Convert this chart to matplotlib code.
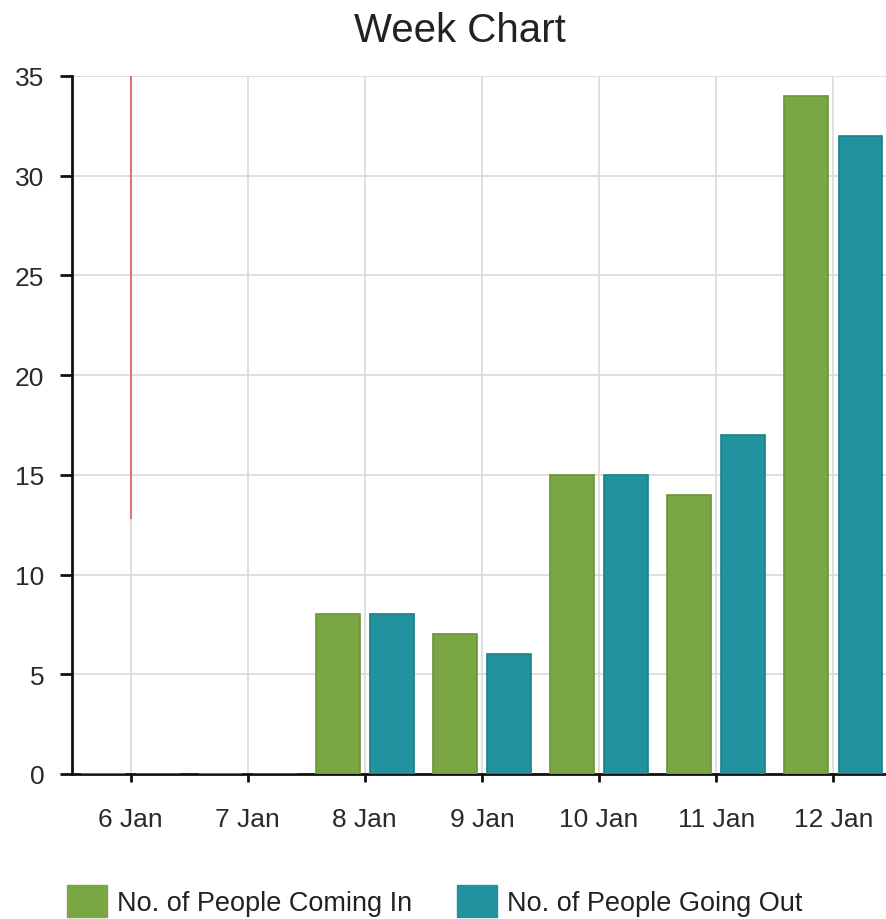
import matplotlib
matplotlib.use("Agg")
import matplotlib.pyplot as plt
from matplotlib.patches import Patch
import numpy as np

categories = ["6 Jan", "7 Jan", "8 Jan", "9 Jan", "10 Jan", "11 Jan", "12 Jan"]
coming_in = [0, 0, 8, 7, 15, 14, 34]
going_out = [0, 0, 8, 6, 15, 17, 32]
series_names = ["No. of People Coming In", "No. of People Going Out"]
yticks = [0, 5, 10, 15, 20, 25, 30, 35]
marker_x = 0
marker_range = (12.8, 35)

green = "#7ba644"
teal = "#22939e"
text_color = "#2a2a2a"

plt.rcParams['font.family'] = ['Liberation Sans', 'DejaVu Sans']

fig = plt.figure(figsize=(8.86, 9.2), dpi=100)
ax = fig.add_axes([72/886, 1-775/920, 1-72/886, (775-77)/920])

x = np.arange(len(categories))
w = 0.375
off = 0.232
ax.bar(x - off, coming_in, width=w, color=green, edgecolor="#6a9438", linewidth=1.2, zorder=3)
ax.bar(x + off, going_out, width=w, color=teal, edgecolor="#1d7f88", linewidth=1.2, zorder=3)

ax.set_xlim(-0.5, 6.45)
ax.set_ylim(0, 35)
ax.set_xticks(x)
ax.set_xticklabels(categories)
ax.set_yticks(yticks)
ax.grid(True, color="#d9d9d9", linewidth=1.2, zorder=0)
ax.set_axisbelow(True)

ax.vlines(marker_x, marker_range[0], marker_range[1], color="#e06666", linewidth=1.3, zorder=4)

for s in ["top", "right"]:
    ax.spines[s].set_visible(False)
for s in ["left", "bottom"]:
    ax.spines[s].set_linewidth(2)
    ax.spines[s].set_color("#111111")

ax.tick_params(axis="y", length=9, width=2, pad=11, labelsize=19, colors="#111111", labelcolor=text_color)
ax.tick_params(axis="x", length=6, width=2, pad=18, labelsize=19, colors="#111111", labelcolor=text_color)

fig.text(0.519, 1-31/920, "Week Chart", ha="center", va="center", fontsize=29, color="#222222")

handles = [Patch(facecolor=green, edgecolor=green), Patch(facecolor=teal, edgecolor=teal)]
fig.legend(handles, series_names, loc="center", bbox_to_anchor=(0.491, 1-902/920), ncol=2,
           frameon=False, fontsize=19.5, handlelength=1.48, handleheight=1.48,
           handletextpad=0.37, columnspacing=1.66, labelcolor="#222222")

fig.savefig("out.png", dpi=100)
